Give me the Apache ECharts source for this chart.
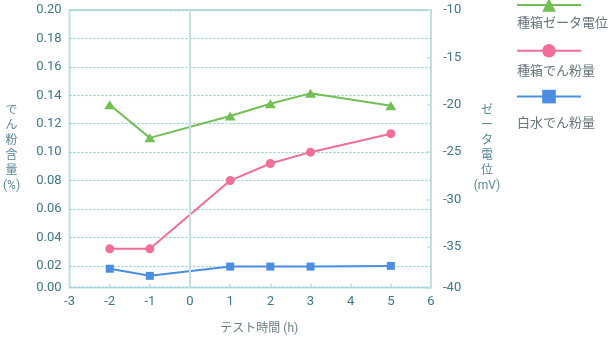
<!DOCTYPE html>
<html>
<head>
<meta charset="utf-8">
<script src="https://cdn.jsdelivr.net/npm/echarts@6/dist/echarts.min.js"></script>
<style>
  html, body { margin: 0; padding: 0; background: #ffffff; }
  #chart { width: 609px; height: 345px; }
</style>
</head>
<body>
<div id="chart"></div>
<script>
// ---- data ----
const testHours = [-2, -1, 1, 2, 3, 5];
const zetaPotential = [-20.0, -23.5, -21.2, -19.9, -18.8, -20.1];   // 種箱ゼータ電位 (mV, right axis)
const seedStarch = [0.032, 0.032, 0.080, 0.092, 0.100, 0.113];       // 種箱でん粉量 (%)
const whiteWaterStarch = [0.018, 0.013, 0.0195, 0.0195, 0.0195, 0.020]; // 白水でん粉量 (%)
const seriesNames = ['種箱ゼータ電位', '種箱でん粉量', '白水でん粉量'];
const xRange = [-3, 6];
const leftRange = [0.0048, 0.20];
const rightRange = [-39.3, -10];
const leftAxisName = 'で\nん\n粉\n含\n量\n(%)';
const rightAxisName = 'ゼ\nー\nタ\n電\n位\n(mV)';
const xAxisName = 'テスト時間 (h)';

const FONT = 'Roboto, "Noto Sans CJK JP", sans-serif';
const LABEL = '#3d7888';
const NAME = '#5a8896';
const FRAME = '#c0e0e6';
const GREEN = '#72bf56', PINK = '#f06e97', BLUE = '#4b8de0';

const pairs = arr => testHours.map((x, i) => [x, arr[i]]);

const chart = echarts.init(document.getElementById('chart'), null, { renderer: 'canvas' });
chart.setOption({
  animation: false,
  textStyle: { fontFamily: FONT },
  grid: { left: 69, right: 178, top: 10, bottom: 57.5, show: true, borderColor: FRAME, borderWidth: 2, backgroundColor: 'transparent' },
  legend: {
    orient: 'vertical', left: 516, top: -3.5, padding: 0,
    itemWidth: 64, itemHeight: 17, itemGap: 30.5,
    formatter: () => '',
    data: seriesNames,
    selectedMode: false
  },
  graphic: seriesNames.map((n, i) => ({
    type: 'text', left: 517, top: [25, 73, 125][i] - 8,
    style: { text: n, font: '13px ' + FONT, fill: '#67747a' }
  })),
  xAxis: {
    type: 'value', min: xRange[0], max: xRange[1], interval: 1,
    name: xAxisName, nameLocation: 'middle', nameGap: 41,
    nameTextStyle: { color: '#6b8089', fontSize: 12, align: 'center', verticalAlign: 'middle', padding: [0, 0, 0, 18] },
    axisLine: { show: false },
    axisTick: { show: true, inside: true, length: 4, lineStyle: { color: FRAME, width: 1.5 } },
    axisLabel: { color: LABEL, fontSize: 13, margin: 8 },
    splitLine: { show: false }
  },
  yAxis: [
    {
      type: 'value', position: 'left', min: leftRange[0], max: leftRange[1],
      splitNumber: 10, minInterval: 0.02, maxInterval: 0.02,
      name: leftAxisName, nameLocation: 'middle', nameRotate: 0, nameGap: 58,
      nameTextStyle: { color: NAME, fontSize: 12, lineHeight: 15, align: 'center', verticalAlign: 'middle', padding: [14, 0, 0, 0] },
      axisLine: { show: false },
      axisTick: { show: false },
      axisLabel: { color: LABEL, fontSize: 13, margin: 8, formatter: v => v.toFixed(2) },
      splitLine: { show: true, lineStyle: { color: '#8ccad6', type: [2, 2], width: 1.2 } }
    },
    {
      type: 'value', position: 'right', min: rightRange[0], max: rightRange[1],
      splitNumber: 6, minInterval: 5, maxInterval: 5,
      name: rightAxisName, nameLocation: 'middle', nameRotate: 0, nameGap: 56,
      nameTextStyle: { color: NAME, fontSize: 12, lineHeight: 15, align: 'center', verticalAlign: 'middle', padding: [14, 0, 0, 0] },
      axisLine: { show: false },
      axisTick: { show: true, inside: true, length: 4, lineStyle: { color: FRAME, width: 1.5 } },
      axisLabel: { color: LABEL, fontSize: 13, margin: 12, formatter: v => String(Math.round(v / 5) * 5) },
      splitLine: { show: false }
    }
  ],
  series: [
    {
      name: seriesNames[0], type: 'line', yAxisIndex: 1, data: pairs(zetaPotential),
      symbol: 'triangle', symbolSize: [11, 9], itemStyle: { color: GREEN },
      lineStyle: { color: GREEN, width: 2 },
      markLine: {
        silent: true, symbol: 'none', label: { show: false },
        lineStyle: { color: FRAME, width: 2, type: 'solid' },
        data: [{ xAxis: 0 }]
      },
      z: 4
    },
    {
      name: seriesNames[1], type: 'line', yAxisIndex: 0, data: pairs(seedStarch),
      symbol: 'circle', symbolSize: 9, itemStyle: { color: PINK },
      lineStyle: { color: PINK, width: 2 }, z: 3
    },
    {
      name: seriesNames[2], type: 'line', yAxisIndex: 0, data: pairs(whiteWaterStarch),
      symbol: 'rect', symbolSize: 8, itemStyle: { color: BLUE },
      lineStyle: { color: BLUE, width: 2 }, z: 2
    }
  ]
});
</script>
</body>
</html>
